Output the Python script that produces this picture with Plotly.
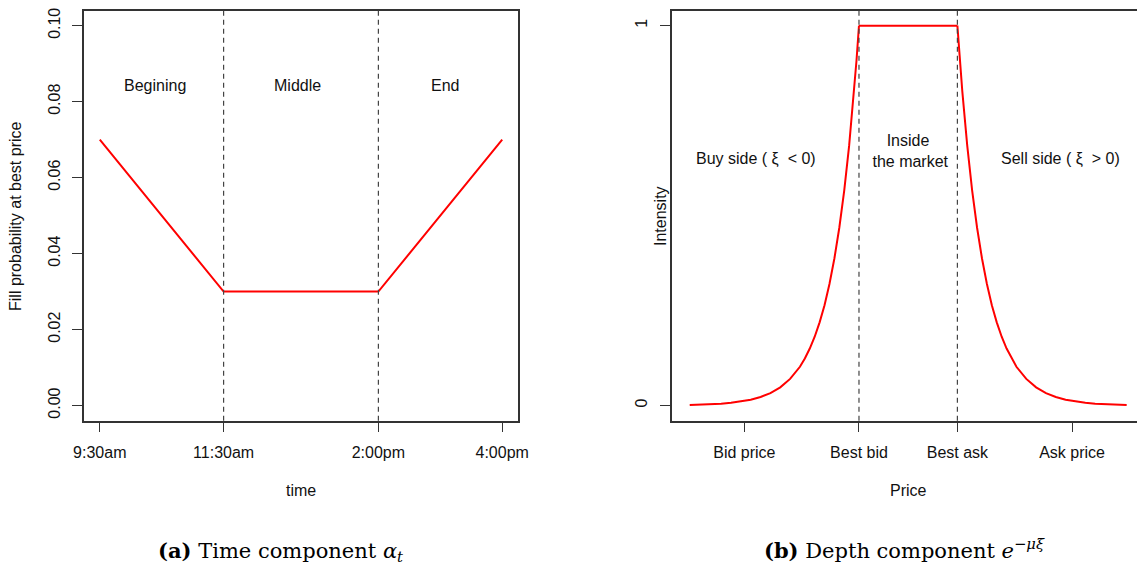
import plotly.graph_objects as go

# ---------------- Panel (a): time component ----------------
time_hours = [9.5, 11.5, 14.0, 16.0]
time_labels = ["9:30am", "11:30am", "2:00pm", "4:00pm"]
fill_prob = [0.07, 0.03, 0.03, 0.07]
phase_breaks = [11.5, 14.0]
phase_names = ["Begining", "Middle", "End"]
phase_label_x = [10.39, 12.69, 15.08]
phase_label_y = 0.0842
ytick_a = [0.00, 0.02, 0.04, 0.06, 0.08, 0.10]
ytick_a_text = ["0.00", "0.02", "0.04", "0.06", "0.08", "0.10"]

# ---------------- Panel (b): depth component ----------------
buy_x = [-4.44, -4.2, -4.0, -3.8, -3.6, -3.4, -3.2, -3.0, -2.8, -2.6, -2.4, -2.2, -2.1, -2.0,
         -1.9, -1.8, -1.7, -1.6, -1.5, -1.4, -1.3, -1.2, -1.1, -1.05, -1.0]
buy_y = [0.0015, 0.0023, 0.0033, 0.0049, 0.0072, 0.0105, 0.0153, 0.0224, 0.0327, 0.0478, 0.070,
         0.102, 0.124, 0.150, 0.181, 0.219, 0.264, 0.320, 0.387, 0.468, 0.566, 0.684, 0.827, 0.909, 1.0]
inside_x = [-1.0, 1.0]
inside_y = [1.0, 1.0]
sell_x = [1.0, 1.05, 1.1, 1.2, 1.3, 1.4, 1.5, 1.6, 1.7, 1.8, 1.9, 2.0, 2.1, 2.2, 2.4, 2.6,
          2.8, 3.0, 3.2, 3.4, 3.6, 3.8, 4.0, 4.2, 4.44]
sell_y = [1.0, 0.909, 0.827, 0.684, 0.566, 0.468, 0.387, 0.320, 0.264, 0.219, 0.181, 0.150, 0.124,
          0.102, 0.070, 0.0478, 0.0327, 0.0224, 0.0153, 0.0105, 0.0072, 0.0049, 0.0033, 0.0023, 0.0015]
price_ticks = [-3.33, -1.0, 1.0, 3.33]
price_labels = ["Bid price", "Best bid", "Best ask", "Ask price"]
best_quotes = [-1.0, 1.0]
ytick_b = [0, 1]
ytick_b_text = ["0", "1"]

RED = "#ff0000"
AX = "#333333"
DASH = "#444444"
FONT = "Liberation Sans, Arial, sans-serif"
SERIF = "DejaVu Serif, Liberation Serif, serif"
W, H = 1137, 568

fig = go.Figure()

fig.add_trace(go.Scatter(x=time_hours, y=fill_prob, mode="lines",
                         line=dict(color=RED, width=2), xaxis="x", yaxis="y",
                         showlegend=False, hoverinfo="skip"))
for xs, ys in [(buy_x, buy_y), (inside_x, inside_y), (sell_x, sell_y)]:
    fig.add_trace(go.Scatter(x=xs, y=ys, mode="lines",
                             line=dict(color=RED, width=2),
                             xaxis="x2", yaxis="y2", showlegend=False, hoverinfo="skip"))

shapes = []
for b in phase_breaks:
    shapes.append(dict(type="line", xref="x", yref="y domain", x0=b, x1=b, y0=0, y1=1,
                       line=dict(color=DASH, width=1.2, dash="5px,4px")))
for b in best_quotes:
    shapes.append(dict(type="line", xref="x2", yref="y2 domain", x0=b, x1=b, y0=0, y1=1,
                       line=dict(color=DASH, width=1.2, dash="5px,4px")))

TXT = dict(size=16, color="#111", family=FONT)
C = dict(showarrow=False, xanchor="center", yanchor="middle")
ann = []
for name, xv in zip(phase_names, phase_label_x):
    ann.append(dict(x=xv, y=phase_label_y, xref="x", yref="y", text=name, font=TXT, **C))
ann.append(dict(x=-3.10, y=0.65, xref="x2", yref="y2", text="Buy side ( ξ  < 0)", font=TXT, **C))
ann.append(dict(x=3.10, y=0.65, xref="x2", yref="y2", text="Sell side ( ξ  > 0)", font=TXT, **C))
ann.append(dict(x=0.0, y=0.67, xref="x2", yref="y2", text="Inside<br> the market",
                font=TXT, align="center", **C))
# axis titles
ann.append(dict(x=16 / W, y=1 - 216 / H, xref="paper", yref="paper", text="Fill probability at best price",
                textangle=-90, font=TXT, **C))
ann.append(dict(x=661 / W, y=1 - 216 / H, xref="paper", yref="paper", text="Intensity",
                textangle=-90, font=TXT, **C))
ann.append(dict(x=301 / W, y=1 - 490 / H, xref="paper", yref="paper", text="time", font=TXT, **C))
ann.append(dict(x=908 / W, y=1 - 490 / H, xref="paper", yref="paper", text="Price", font=TXT, **C))
# captions
ann.append(dict(x=280 / W, y=1 - 551 / H, xref="paper", yref="paper",
                text="<b>(a)</b> Time component <i>α</i><sub><i>t</i></sub>",
                font=dict(size=21, color="#000", family=SERIF), **C))
ann.append(dict(x=904 / W, y=1 - 549 / H, xref="paper", yref="paper",
                text="<b>(b)</b> Depth component <i>e</i><sup>−<i>μξ</i></sup>",
                font=dict(size=21, color="#000", family=SERIF), **C))

axis_common = dict(showgrid=False, zeroline=False, showline=True, linecolor=AX, linewidth=1.5,
                   ticks="outside", ticklen=10, tickwidth=1.2, tickcolor=AX, automargin=False,
                   tickfont=dict(size=16, color="#111", family=FONT))

fig.update_layout(
    template="none",
    width=W, height=H,
    margin=dict(l=0, r=0, t=0, b=0, pad=0),
    paper_bgcolor="white", plot_bgcolor="white",
    xaxis=dict(domain=[83.7 / W, 518.3 / W], range=[9.24, 16.26],
               tickmode="array", tickvals=time_hours, ticktext=time_labels,
               mirror=True, anchor="y", ticklabelstandoff=6, **axis_common),
    yaxis=dict(domain=[1 - 420.7 / H, 1 - 10.5 / H], range=[-0.004, 0.104],
               tickmode="array", tickvals=ytick_a, ticktext=ytick_a_text, tickangle=-90,
               mirror=True, anchor="x", ticklabelstandoff=6, **axis_common),
    xaxis2=dict(domain=[671.5 / W, 1.0], range=[-4.81, 4.65],
                tickmode="array", tickvals=price_ticks, ticktext=price_labels,
                mirror=True, anchor="y2", ticklabelstandoff=6, **axis_common),
    yaxis2=dict(domain=[1 - 420.7 / H, 1 - 10.5 / H], range=[-0.04, 1.04],
                tickmode="array", tickvals=ytick_b, ticktext=ytick_b_text, tickangle=-90,
                mirror=False, anchor="x2", ticklabelstandoff=6, **axis_common),
    shapes=shapes,
    annotations=ann,
)

fig.write_html("out.html")
